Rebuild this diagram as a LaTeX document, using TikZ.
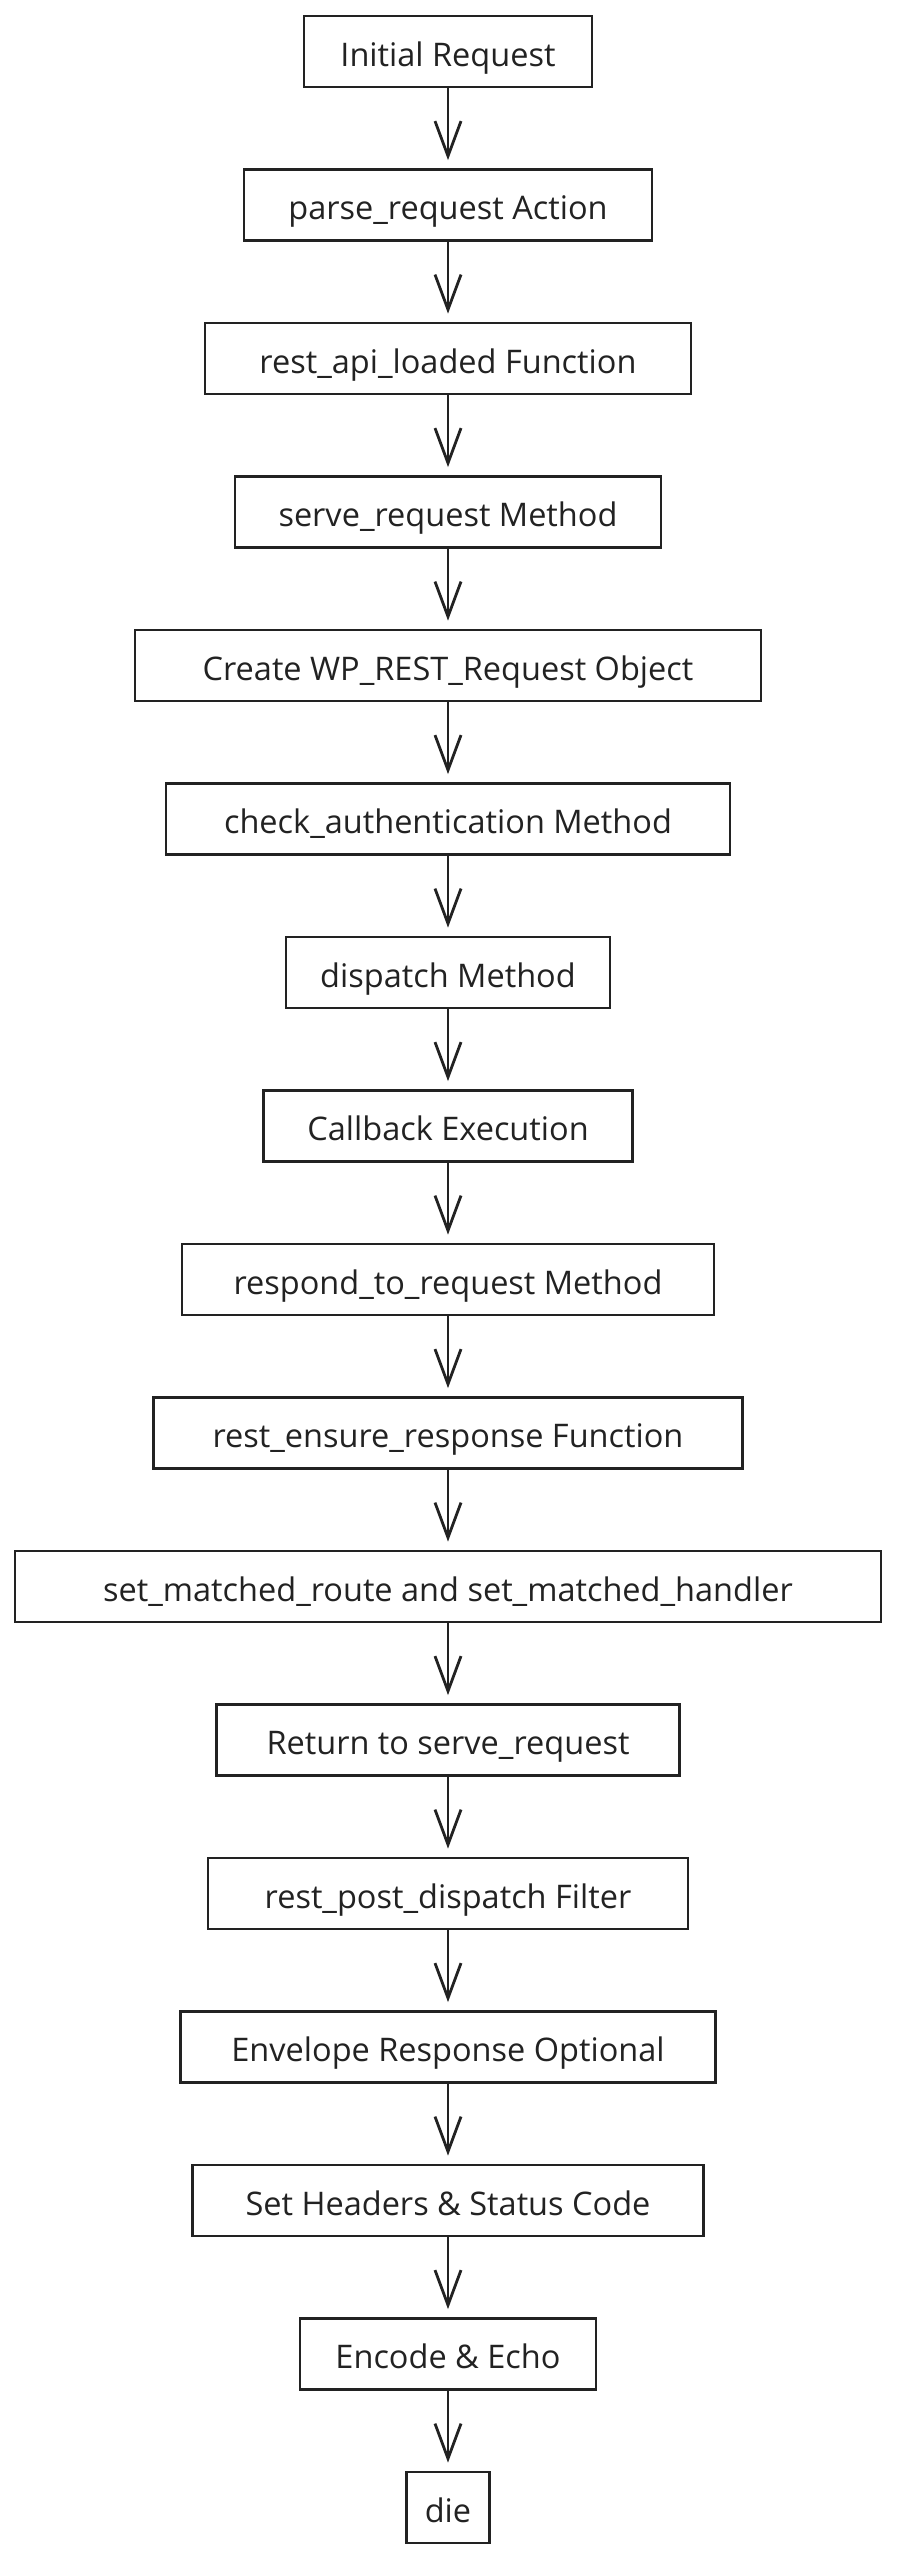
\documentclass[tikz,border=0pt]{standalone}
\usepackage{fontspec}
\setmainfont{Open Sans}
\usetikzlibrary{arrows.meta}
\definecolor{ln}{HTML}{222222}
\definecolor{txt}{HTML}{222222}
\begin{document}
\begin{tikzpicture}[x=1pt,y=-1pt,
  box/.style={draw=ln, line width=2.8pt, minimum height=71pt, inner sep=0pt, fill=white,
              text height=32pt, text depth=3pt,
              font=\fontsize{32.5}{38}\selectfont, text=txt},
  arr/.style={draw=ln, line width=2.8pt, -{Straight Barb[length=35pt,width=26pt]}, shorten >=8pt}]
\useasboundingbox[fill=white] (0,0) rectangle (899,2560);
\node[box, minimum width=288pt] (n1)  at (448,51.5)   {Initial Request};
\node[box, minimum width=408pt] (n2)  at (448,205)    {parse\_request Action};
\node[box, minimum width=486pt] (n3)  at (448,358.5)  {rest\_api\_loaded Function};
\node[box, minimum width=426pt] (n4)  at (448,512)    {serve\_request Method};
\node[box, minimum width=626pt] (n5)  at (448,665.5)  {Create WP\_REST\_Request Object};
\node[box, minimum width=564pt] (n6)  at (448,819)    {check\_authentication Method};
\node[box, minimum width=324pt] (n7)  at (448,972.5)  {dispatch Method};
\node[box, minimum width=369pt] (n8)  at (448,1126)   {Callback Execution};
\node[box, minimum width=532pt] (n9)  at (448,1279.5) {respond\_to\_request Method};
\node[box, minimum width=589pt] (n10) at (448,1433)   {rest\_ensure\_response Function};
\node[box, minimum width=866pt] (n11) at (448,1586.5) {set\_matched\_route and set\_matched\_handler};
\node[box, minimum width=463pt] (n12) at (448,1740)   {Return to serve\_request};
\node[box, minimum width=480pt] (n13) at (448,1893.5) {rest\_post\_dispatch Filter};
\node[box, minimum width=535pt] (n14) at (448,2047)   {Envelope Response Optional};
\node[box, minimum width=511pt] (n15) at (448,2200.5) {Set Headers \& Status Code};
\node[box, minimum width=296pt] (n16) at (448,2354)   {Encode \& Echo};
\node[box, minimum width=83pt]  (n17) at (448,2507.5) {die};
\foreach \a/\b in {n1/n2,n2/n3,n3/n4,n4/n5,n5/n6,n6/n7,n7/n8,n8/n9,n9/n10,n10/n11,n11/n12,n12/n13,n13/n14,n14/n15,n15/n16,n16/n17}
  \draw[arr] (\a) -- (\b);
\end{tikzpicture}
\end{document}
